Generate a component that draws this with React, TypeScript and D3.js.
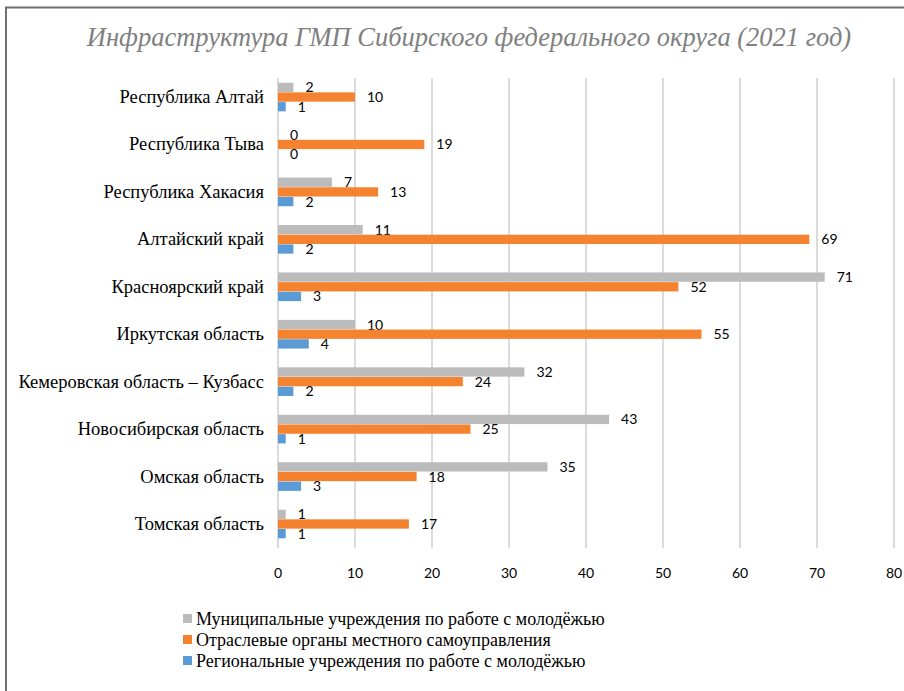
import { useRef, useEffect } from 'react';
import * as d3 from 'd3';

const W = 904;
const H = 691;

const categories = [
  'Республика Алтай',
  'Республика Тыва',
  'Республика Хакасия',
  'Алтайский край',
  'Красноярский край',
  'Иркутская область',
  'Кемеровская область – Кузбасс',
  'Новосибирская область',
  'Омская область',
  'Томская область',
];

const municipal = [2, 0, 7, 11, 71, 10, 32, 43, 35, 1];
const sectoral = [10, 19, 13, 69, 52, 55, 24, 25, 18, 17];
const regional = [1, 0, 2, 2, 3, 4, 2, 1, 3, 1];

const xTicks = [0, 10, 20, 30, 40, 50, 60, 70, 80];

const series = [
  { key: 'mun', label: 'Муниципальные учреждения по работе с молодёжью', color: '#BBBBBB', values: municipal },
  { key: 'sec', label: 'Отраслевые органы местного самоуправления', color: '#F5822F', values: sectoral },
  { key: 'reg', label: 'Региональные учреждения по работе с молодёжью', color: '#5B9BD5', values: regional },
];

const TITLE = 'Инфраструктура ГМП Сибирского федерального округа (2021 год)';
const SERIF = '"Liberation Serif", "Times New Roman", serif';
const SANS = 'Lato, "Liberation Sans", sans-serif';

export default function App() {
  const svgRef = useRef<SVGSVGElement | null>(null);

  useEffect(() => {
    document.body.style.margin = '0';
    const svg = d3.select(svgRef.current);
    svg.selectAll('*').remove();

    svg.append('rect').attr('width', W).attr('height', H).attr('fill', '#fff');
    // chart frame (runs off the right and bottom edge)
    svg.append('path')
      .attr('d', `M6,${H + 5} L6,7.5 L${W + 5},7.5`)
      .attr('fill', 'none').attr('stroke', '#6f6f6f').attr('stroke-width', 2);

    svg.append('text')
      .attr('x', 469).attr('y', 46)
      .attr('text-anchor', 'middle')
      .attr('font-family', SERIF).attr('font-style', 'italic')
      .attr('font-size', '26.5px').attr('fill', '#808080')
      .text(TITLE);

    const x = d3.scaleLinear().domain([0, 80]).range([278, 894]);
    const y0 = d3.scaleBand().domain(categories).range([73.3, 547.7])
      .paddingInner(0.38).paddingOuter(0.19);
    const y1 = d3.scaleBand().domain(series.map(s => s.key)).range([0, y0.bandwidth()]).padding(0.04);

    // gridlines
    svg.append('g').selectAll('line').data(xTicks).join('line')
      .attr('x1', d => x(d)).attr('x2', d => x(d))
      .attr('y1', 78).attr('y2', 548)
      .attr('stroke', '#cfcfcf').attr('stroke-width', 1.5);

    svg.append('g').selectAll('text').data(xTicks).join('text')
      .attr('x', d => x(d)).attr('y', 578)
      .attr('text-anchor', 'middle')
      .attr('font-family', SANS).attr('font-size', '14px').attr('fill', '#000')
      .text(d => d);

    // category labels
    svg.append('g').selectAll('text').data(categories).join('text')
      .attr('x', 264).attr('y', d => (y0(d) as number) + y0.bandwidth() / 2 + 6)
      .attr('text-anchor', 'end')
      .attr('font-family', SERIF).attr('font-size', '18.5px').attr('fill', '#000')
      .text(d => d);

    series.forEach(s => {
      const g = svg.append('g');
      categories.forEach((c, i) => {
        const v = s.values[i];
        const top = (y0(c) as number) + (y1(s.key) as number);
        if (v > 0) {
          g.append('rect')
            .attr('x', x(0)).attr('y', top)
            .attr('width', x(v) - x(0)).attr('height', y1.bandwidth())
            .attr('fill', s.color);
        }
        g.append('text')
          .attr('x', x(v) + 12).attr('y', top + y1.bandwidth() / 2 + 5)
          .attr('font-family', SANS).attr('font-size', '14px').attr('fill', '#000')
          .text(v);
      });
    });

    // legend
    const legend = svg.append('g').attr('transform', 'translate(183, 619)');
    series.forEach((s, i) => {
      const row = legend.append('g').attr('transform', `translate(0, ${i * 21})`);
      row.append('rect').attr('x', 0).attr('y', -5).attr('width', 9).attr('height', 9).attr('fill', s.color);
      row.append('text').attr('x', 13).attr('y', 6)
        .attr('font-family', SERIF).attr('font-size', '18px').attr('fill', '#000')
        .text(s.label);
    });
  }, []);

  return <svg ref={svgRef} width={W} height={H} style={{ display: 'block' }} />;
}
